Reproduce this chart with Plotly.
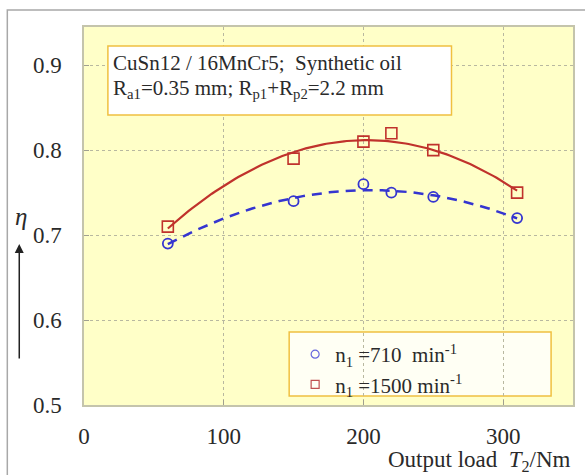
import numpy as np
import plotly.graph_objects as go

# Data
load_710 = [60, 150, 200, 220, 250, 310]
eta_710 = [0.69, 0.74, 0.76, 0.75, 0.745, 0.72]
load_1500 = [60, 150, 200, 220, 250, 310]
eta_1500 = [0.71, 0.79, 0.81, 0.82, 0.80, 0.75]
x_ticks = [0, 100, 200, 300]
y_ticks = [0.5, 0.6, 0.7, 0.8, 0.9]

BLUE = "#3535d0"
RED = "#c0322c"
FONT = "Liberation Serif"
TXT = "#2a2a2a"

def quad_fit(x, y):
    c = np.polyfit(x, y, 2)
    xs = np.linspace(min(x), max(x), 120)
    return xs, np.polyval(c, xs)

fig = go.Figure()

xs, ys = quad_fit(load_710, eta_710)
fig.add_trace(go.Scatter(x=xs, y=ys, mode="lines", showlegend=False,
                         line=dict(color=BLUE, width=2.5, dash="10px,7px")))
xs, ys = quad_fit(load_1500, eta_1500)
fig.add_trace(go.Scatter(x=xs, y=ys, mode="lines", showlegend=False,
                         line=dict(color=RED, width=2.2)))

fig.add_trace(go.Scatter(x=load_710, y=eta_710, mode="markers", showlegend=False,
                         marker=dict(symbol="circle-open", size=10, color=BLUE,
                                     line=dict(width=1.8))))
fig.add_trace(go.Scatter(x=load_1500, y=eta_1500, mode="markers", showlegend=False,
                         marker=dict(symbol="square-open", size=11, color=RED,
                                     line=dict(width=1.6))))

# legend entries
fig.add_trace(go.Scatter(x=[None], y=[None], mode="markers",
                         name="n<sub>1</sub> =710  min<sup>-1</sup>",
                         marker=dict(symbol="circle-open", size=8, color="#6666dd",
                                     line=dict(width=1.2))))
fig.add_trace(go.Scatter(x=[None], y=[None], mode="markers",
                         name="n<sub>1</sub> =1500 min<sup>-1</sup>",
                         marker=dict(symbol="square-open", size=8, color="#c05050",
                                     line=dict(width=1.2))))

L, R, T, B = 84, 10, 27, 70
W, H = 585, 475
pw, ph = W - L - R, H - T - B

def px(xp):
    return (xp - L) / pw

def py(yp):
    return (H - B - yp) / ph

fig.update_layout(
    width=W, height=H,
    margin=dict(l=L, r=R, t=T, b=B),
    paper_bgcolor="white",
    plot_bgcolor="#ffffc8",
    font=dict(family=FONT, size=20, color=TXT),
    legend=dict(x=px(296), y=py(334), xanchor="left", yanchor="top",
                bgcolor="rgba(0,0,0,0)", borderwidth=0,
                font=dict(family=FONT, size=21, color=TXT),
                itemwidth=30, tracegroupgap=0),
    xaxis=dict(range=[0, 350], tickvals=x_ticks, showgrid=True,
               gridcolor="#b8b8a0", griddash="dot", gridwidth=1,
               showline=True, mirror=True, linecolor="#c4c4ac", linewidth=1.5,
               ticks="inside", ticklen=5, tickcolor="#a0a090",
               zeroline=False, ticklabelstandoff=10,
               tickfont=dict(family=FONT, size=23, color=TXT)),
    yaxis=dict(range=[0.5, 0.945], tickvals=y_ticks, tickformat=".1f",
               showgrid=True, gridcolor="#b8b8a0", griddash="dot", gridwidth=1,
               showline=True, mirror=True, linecolor="#c4c4ac", linewidth=1.5,
               ticks="inside", ticklen=5, tickcolor="#a0a090",
               zeroline=False, ticklabelstandoff=16,
               tickfont=dict(family=FONT, size=23, color=TXT)),
    shapes=[
        # outer frame
        dict(type="rect", xref="paper", yref="paper",
             x0=px(7), x1=px(600), y0=py(500), y1=py(10),
             line=dict(color="#a8a8a8", width=1.5), fillcolor="rgba(0,0,0,0)",
             layer="below"),
        # info box
        dict(type="rect", xref="paper", yref="paper",
             x0=px(108), x1=px(453), y0=py(115), y1=py(46),
             line=dict(color="#f0c040", width=1.5), fillcolor="white"),
        # legend box
        dict(type="rect", xref="paper", yref="paper",
             x0=px(290), x1=px(553), y0=py(396), y1=py(332),
             line=dict(color="#f0c040", width=1.5), fillcolor="#fffff4",
             layer="below"),
    ],
    annotations=[
        dict(xref="paper", yref="paper", x=px(111), y=py(63), xanchor="left",
             yanchor="middle", showarrow=False,
             text="CuSn12 / 16MnCr5;  Synthetic oil",
             font=dict(family=FONT, size=21, color=TXT)),
        dict(xref="paper", yref="paper", x=px(111), y=py(89), xanchor="left",
             yanchor="middle", showarrow=False,
             text="R<sub>a1</sub>=0.35 mm; R<sub>p1</sub>+R<sub>p2</sub>=2.2 mm",
             font=dict(family=FONT, size=21, color=TXT)),
        dict(xref="paper", yref="paper", x=1.0, y=py(461), xanchor="right",
             yanchor="middle", showarrow=False,
             text="Output load  <i>T</i><sub>2</sub>/Nm",
             font=dict(family=FONT, size=23, color=TXT)),
        dict(xref="paper", yref="paper", x=px(21), y=py(216), xanchor="center",
             yanchor="middle", showarrow=False, text="<i>η</i>",
             font=dict(family=FONT, size=25, color=TXT)),
        dict(xref="paper", yref="paper", x=px(19), y=py(244), text="",
             showarrow=True, axref="pixel", ayref="pixel", ax=0, ay=116,
             arrowhead=2, arrowsize=1.2, arrowwidth=1.5, arrowcolor="#222"),
    ],
)

fig.write_html("out.html", config={"displayModeBar": False},
               post_script="document.body.style.margin='0';document.body.style.overflow='hidden';")
